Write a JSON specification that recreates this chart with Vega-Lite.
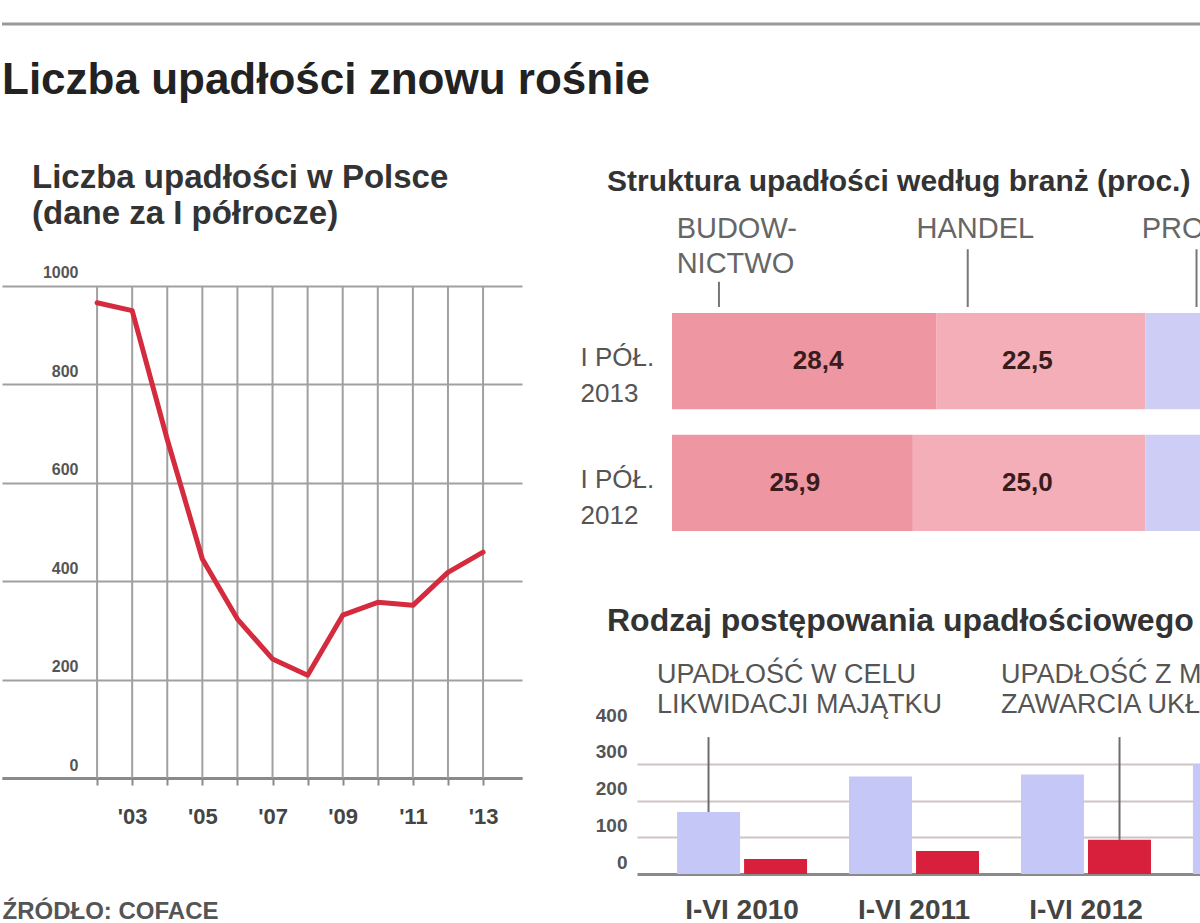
{
  "$schema": "https://vega.github.io/schema/vega-lite/v6.json",
  "background": "white",
  "padding": {"left": 0, "top": 22, "right": 0, "bottom": 0},
  "config": {
    "font": "Liberation Sans",
    "view": {"stroke": null},
    "locale": {"number": {"decimal": ",", "thousands": " ", "grouping": [3], "currency": ["", " zł"]}},
    "title": {"color": "#333333", "fontWeight": "bold", "anchor": "start", "frame": "group"}
  },
  "datasets": {
    "naglowek": [{"opis": "Liczba upadłości znowu rośnie"}],
    "upadlosci": [
      {"rok": 2002, "liczba": 966},
      {"rok": 2003, "liczba": 950},
      {"rok": 2004, "liczba": 688},
      {"rok": 2005, "liczba": 445},
      {"rok": 2006, "liczba": 323},
      {"rok": 2007, "liczba": 242},
      {"rok": 2008, "liczba": 209},
      {"rok": 2009, "liczba": 331},
      {"rok": 2010, "liczba": 357},
      {"rok": 2011, "liczba": 351},
      {"rok": 2012, "liczba": 418},
      {"rok": 2013, "liczba": 459}
    ],
    "branze": [
      {"okres": "I PÓŁ. 2013", "branza": "BUDOWNICTWO", "udzial": 28.4},
      {"okres": "I PÓŁ. 2013", "branza": "HANDEL", "udzial": 22.5},
      {"okres": "I PÓŁ. 2013", "branza": "PRODUKCJA", "udzial": 21.0},
      {"okres": "I PÓŁ. 2013", "branza": "TRANSPORT", "udzial": 10.1},
      {"okres": "I PÓŁ. 2013", "branza": "USŁUGI", "udzial": 18.0},
      {"okres": "I PÓŁ. 2012", "branza": "BUDOWNICTWO", "udzial": 25.9},
      {"okres": "I PÓŁ. 2012", "branza": "HANDEL", "udzial": 25.0},
      {"okres": "I PÓŁ. 2012", "branza": "PRODUKCJA", "udzial": 22.3},
      {"okres": "I PÓŁ. 2012", "branza": "TRANSPORT", "udzial": 9.8},
      {"okres": "I PÓŁ. 2012", "branza": "USŁUGI", "udzial": 17.0}
    ],
    "branze_opis": [
      {"branza": "BUDOWNICTWO", "opis": "BUDOW-\nNICTWO", "poczatek": 0.5, "linia": 5.05, "koniec": 0.24},
      {"branza": "HANDEL", "opis": "HANDEL", "poczatek": 26.3, "linia": 31.8, "koniec": 0.55},
      {"branza": "PRODUKCJA", "opis": "PRODUKCJA", "poczatek": 50.5, "linia": 56.4, "koniec": 0.55}
    ],
    "postepowania": [
      {"okres": "I-VI 2010", "rodzaj": "likwidacja", "liczba": 169},
      {"okres": "I-VI 2010", "rodzaj": "układ", "liczba": 41},
      {"okres": "I-VI 2011", "rodzaj": "likwidacja", "liczba": 266},
      {"okres": "I-VI 2011", "rodzaj": "układ", "liczba": 63},
      {"okres": "I-VI 2012", "rodzaj": "likwidacja", "liczba": 271},
      {"okres": "I-VI 2012", "rodzaj": "układ", "liczba": 93},
      {"okres": "I-VI 2013", "rodzaj": "likwidacja", "liczba": 300},
      {"okres": "I-VI 2013", "rodzaj": "układ", "liczba": 110}
    ],
    "postepowania_opis": [
      {"okres": "I-VI 2010", "opis": "UPADŁOŚĆ W CELU\nLIKWIDACJI MAJĄTKU"},
      {"okres": "I-VI 2012", "opis": "UPADŁOŚĆ Z MOŻLIWOŚCIĄ\nZAWARCIA UKŁADU"}
    ]
  },
  "bounds": "flush",
  "spacing": 177,
  "vconcat": [
    {
      "width": 1200,
      "height": 1,
      "data": {"name": "naglowek"},
      "title": {"text": "Liczba upadłości znowu rośnie", "orient": "bottom", "offset": 33, "fontSize": 44, "color": "#222222"},
      "mark": {"type": "rule", "color": "#9a9a9a", "strokeWidth": 3},
      "encoding": {"y": {"datum": 1, "type": "quantitative", "scale": {"domain": [0, 1]}, "axis": null}}
    },
    {
      "bounds": "flush",
      "spacing": 115,
      "hconcat": [
        {
          "width": 520,
          "height": 576,
          "data": {"name": "upadlosci"},
          "title": {"text": ["Liczba upadłości w Polsce", "(dane za I półrocze)"], "dx": 30, "offset": -29, "fontSize": 33, "lineHeight": 36},
          "encoding": {
            "x": {
              "field": "rok", "type": "quantitative",
              "scale": {"domain": [1999.29, 2014.11], "nice": false, "zero": false},
              "axis": {
                "values": [2002, 2003, 2004, 2005, 2006, 2007, 2008, 2009, 2010, 2011, 2012, 2013],
                "labelExpr": "datum.value % 2 == 1 ? \"'\" + substring(toString(datum.value), 2, 4) : ''",
                "grid": false,
                "domainColor": "#8a8a8a", "domainWidth": 3,
                "tickColor": "#8a8a8a", "tickWidth": 2, "tickSize": 7,
                "labelFontSize": 22, "labelFontWeight": "bold", "labelColor": "#444444", "labelPadding": 21,
                "title": "ŹRÓDŁO: COFACE", "titleX": 0, "titleY": 140, "titleAlign": "left", "titleBaseline": "alphabetic",
                "titleFontSize": 24, "titleColor": "#555555", "titleFontWeight": "bold"
              }
            }
          },
          "layer": [
            {
              "mark": {"type": "rule", "color": "#a0a0a0", "strokeWidth": 2},
              "encoding": {
                "y": {"datum": 1000, "type": "quantitative"},
                "y2": {"datum": 0}
              }
            },
            {
              "mark": {"type": "line", "color": "#d42b3e", "strokeWidth": 5, "strokeJoin": "round", "strokeCap": "round"},
              "encoding": {
                "y": {
                  "field": "liczba", "type": "quantitative",
                  "scale": {"domain": [0, 1170.7], "nice": false},
                  "axis": {
                    "values": [0, 200, 400, 600, 800, 1000], "format": "d", "offset": -80, "labelPadding": 4,
                    "domain": false, "ticks": false, "grid": true, "gridColor": "#a0a0a0", "gridWidth": 2,
                    "labelFontSize": 16, "labelFontWeight": "bold", "labelColor": "#555555",
                    "labelBaseline": "alphabetic", "labelOffset": -8, "title": null
                  }
                }
              }
            }
          ]
        },
        {
          "bounds": "flush",
          "spacing": 0,
          "resolve": {"scale": {"color": "independent", "x": "independent", "y": "independent"}},
          "vconcat": [
            {
              "width": 565,
              "height": 105,
              "data": {"name": "branze_opis"},
              "title": {"text": "Struktura upadłości według branż (proc.)", "dx": -30, "offset": 5, "fontSize": 30},
              "layer": [
                {
                  "mark": {"type": "text", "align": "left", "baseline": "top", "lineBreak": "\n", "lineHeight": 35, "fontSize": 29, "color": "#666666", "clip": true},
                  "encoding": {
                    "x": {"field": "poczatek", "type": "quantitative", "scale": {"domain": [-3.763, 56.99], "nice": false, "zero": false}, "axis": null},
                    "y": {"datum": 0.876, "type": "quantitative", "scale": {"domain": [0, 1]}, "axis": null},
                    "text": {"field": "opis", "type": "nominal"}
                  }
                },
                {
                  "mark": {"type": "rule", "color": "#777777", "strokeWidth": 2, "clip": true},
                  "encoding": {
                    "x": {"field": "linia", "type": "quantitative"},
                    "y": {"field": "koniec", "type": "quantitative"},
                    "y2": {"datum": 0}
                  }
                }
              ]
            },
            {
              "width": 565,
              "height": 230,
              "data": {"name": "branze"},
              "encoding": {
                "y": {
                  "field": "okres", "type": "nominal", "sort": ["I PÓŁ. 2013", "I PÓŁ. 2012"],
                  "scale": {"paddingInner": 0.21, "paddingOuter": 0.05},
                  "axis": {
                    "title": null, "domain": false, "ticks": false, "labelAlign": "left", "labelPadding": 57,
                    "labelExpr": "[substring(datum.label, 0, 6), substring(datum.label, 7)]",
                    "labelFontSize": 26, "labelColor": "#555555", "labelLineHeight": 36,
                    "labelBaseline": "middle", "labelOffset": -3
                  }
                }
              },
              "layer": [
                {
                  "mark": {"type": "bar", "clip": true},
                  "encoding": {
                    "x": {"field": "udzial", "type": "quantitative", "stack": "zero", "scale": {"domain": [-3.763, 56.99], "nice": false, "zero": false}, "axis": null},
                    "order": {"field": "branza", "type": "ordinal", "sort": "ascending"},
                    "color": {
                      "field": "branza", "type": "nominal",
                      "scale": {"domain": ["BUDOWNICTWO", "HANDEL", "PRODUKCJA", "TRANSPORT", "USŁUGI"], "range": ["#ee97a3", "#f4aeb7", "#cdcdf6", "#dddddd", "#eeeeee"]},
                      "legend": null
                    }
                  }
                },
                {
                  "transform": [{"filter": "datum.branza === 'BUDOWNICTWO' || datum.branza === 'HANDEL'"}],
                  "mark": {"type": "text", "dx": -118, "fontSize": 26, "fontWeight": "bold", "color": "#3a1c1c"},
                  "encoding": {
                    "x": {"field": "udzial", "type": "quantitative", "stack": "zero"},
                    "detail": {"field": "branza", "type": "nominal"},
                    "order": {"field": "branza", "type": "ordinal", "sort": "ascending"},
                    "text": {"field": "udzial", "type": "quantitative", "format": ".1f"}
                  }
                }
              ]
            },
            {
              "width": 565,
              "height": 337,
              "title": {"text": "Rodzaj postępowania upadłościowego", "dx": -30, "offset": -101, "fontSize": 32},
              "layer": [
                {
                  "data": {"name": "postepowania"},
                  "mark": {"type": "bar", "clip": true},
                  "encoding": {
                    "x": {
                      "field": "okres", "type": "nominal",
                      "scale": {"range": [0, 726], "paddingInner": 0.244, "paddingOuter": 0.233},
                      "axis": {
                        "title": null, "values": ["I-VI 2010", "I-VI 2011", "I-VI 2012"], "domain": false, "ticks": false,
                        "labelFontSize": 28, "labelFontWeight": "bold", "labelColor": "#444444", "labelPadding": 22, "labelAngle": 0
                      }
                    },
                    "xOffset": {"field": "rodzaj", "type": "nominal", "scale": {"domain": ["likwidacja", "układ"], "paddingInner": 0.06}},
                    "y": {
                      "field": "liczba", "type": "quantitative",
                      "scale": {"domain": [0, 918.3], "nice": false},
                      "axis": {
                        "values": [0, 100, 200, 300, 400], "title": null, "domain": false, "ticks": false,
                        "grid": true,
                        "gridColor": {"condition": {"test": "datum.value === 0", "value": "#8a8a8a"}, "value": "#cfc4c4"},
                        "gridWidth": {"condition": {"test": "datum.value === 0", "value": 3}, "value": 2},
                        "gridOpacity": {"condition": {"test": "datum.value === 400", "value": 0}, "value": 1},
                        "labelFontSize": 19, "labelFontWeight": "bold", "labelColor": "#555555", "labelPadding": 10,
                        "labelBaseline": "alphabetic", "labelOffset": -6
                      }
                    },
                    "color": {
                      "field": "rodzaj", "type": "nominal",
                      "scale": {"domain": ["likwidacja", "układ"], "range": ["#c5c7f7", "#d8203d"]},
                      "legend": null
                    }
                  }
                },
                {
                  "data": {"name": "postepowania"},
                  "transform": [{"filter": "datum.okres === 'I-VI 2010' && datum.rodzaj === 'likwidacja'"}],
                  "mark": {"type": "rule", "color": "#6d6d6d", "strokeWidth": 2},
                  "encoding": {
                    "x": {"field": "okres", "type": "nominal", "bandPosition": 0.242},
                    "y": {"field": "liczba", "type": "quantitative"},
                    "y2": {"datum": 373}
                  }
                },
                {
                  "data": {"name": "postepowania"},
                  "transform": [{"filter": "datum.okres === 'I-VI 2012' && datum.rodzaj === 'układ'"}],
                  "mark": {"type": "rule", "color": "#6d6d6d", "strokeWidth": 2},
                  "encoding": {
                    "x": {"field": "okres", "type": "nominal", "bandPosition": 0.758},
                    "y": {"field": "liczba", "type": "quantitative"},
                    "y2": {"datum": 373}
                  }
                },
                {
                  "data": {"name": "postepowania_opis"},
                  "mark": {"type": "text", "align": "left", "baseline": "top", "dx": -20, "lineBreak": "\n", "lineHeight": 30, "fontSize": 27, "color": "#555555"},
                  "encoding": {
                    "x": {"field": "okres", "type": "nominal", "bandPosition": 0},
                    "y": {"datum": 578, "type": "quantitative"},
                    "text": {"field": "opis", "type": "nominal"}
                  }
                }
              ]
            }
          ]
        }
      ]
    }
  ]
}
